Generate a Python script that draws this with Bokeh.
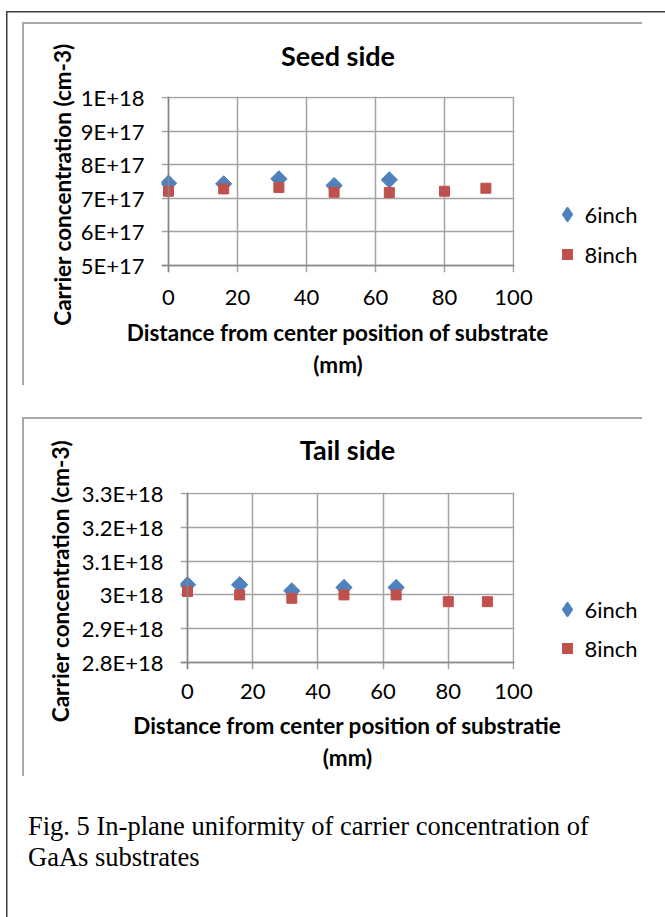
import numpy as np
from bokeh.plotting import figure
from bokeh.models import Range1d, FixedTicker, Legend, LegendItem, Span, Div
from bokeh.layouts import column
from bokeh.embed import file_html
from bokeh.resources import INLINE

# ---------------- data ----------------
distance_6inch = [0, 16, 32, 48, 64]
distance_8inch = [0, 16, 32, 48, 64, 80, 92]

seed_6inch = [7.45e17, 7.43e17, 7.58e17, 7.38e17, 7.55e17]
seed_8inch = [7.21e17, 7.28e17, 7.32e17, 7.18e17, 7.17e17, 7.21e17, 7.30e17]

tail_6inch = [3.03e18, 3.03e18, 3.012e18, 3.022e18, 3.022e18]
tail_8inch = [3.01e18, 3.00e18, 2.99e18, 3.00e18, 3.00e18, 2.98e18, 2.98e18]

x_ticks = [0, 20, 40, 60, 80, 100]
seed_ticks = [5e17, 6e17, 7e17, 8e17, 9e17, 1e18]
seed_tick_labels = ["5E+17", "6E+17", "7E+17", "8E+17", "9E+17", "1E+18"]
tail_ticks = [2.8e18, 2.9e18, 3.0e18, 3.1e18, 3.2e18, 3.3e18]
tail_tick_labels = ["2.8E+18", "2.9E+18", "3E+18", "3.1E+18", "3.2E+18", "3.3E+18"]

series_names = ["6inch", "8inch"]
y_title = "Carrier concentration (cm-3)"
caption_lines = ["Fig. 5 In-plane uniformity of carrier concentration of", "GaAs substrates"]

# ---------------- style ----------------
FONT = "Lato"
BLUE = "#4F81BD"
RED = "#C0504D"
GRID = "#a3a3a3"
AXIS = "#868686"
BOX = "#a8a8a8"
FRAME = "#3c3c3c"
W = 665


def lines_css(segs):
    """segs: list of (x, y, w, h, color) -> css background drawing thin rules"""
    return {
        "background-image": ", ".join(f"linear-gradient({c}, {c})" for *_, c in segs),
        "background-size": ", ".join(f"{w}px {h}px" for _, _, w, h, _ in segs),
        "background-position": ", ".join(f"{x}px {y}px" for x, y, *_ in segs),
        "background-repeat": "no-repeat",
    }


def span_range(d0, d1, p0, p1, f0, f1):
    k = (d1 - d0) / (p1 - p0)
    return d0 + (f0 - p0) * k, d0 + (f1 - p0) * k


def make_chart(H, fr, xpix, ypix, yticks, ylabels, title, xlabel, v6, v8,
               leg, title_standoff, tick_standoff, xlab_standoff, ylab_standoff, segs):
    x0, x1 = span_range(0, 100, xpix[0], xpix[1], fr["left"], fr["right"])
    y0, y1 = span_range(yticks[0], yticks[-1], ypix[0], ypix[1], fr["bottom"], fr["top"])
    p = figure(frame_width=fr["right"] - fr["left"], frame_height=fr["bottom"] - fr["top"],
               output_backend="svg", toolbar_location=None,
               x_range=Range1d(x0, x1), y_range=Range1d(y0, y1),
               min_border_left=fr["left"], min_border_right=W - fr["right"],
               min_border_top=fr["top"], min_border_bottom=H - fr["bottom"],
               background_fill_color="white", border_fill_color=None,
               frame_align=False, styles=lines_css(segs))
    p.outline_line_color = None
    p.title.text = title
    p.title.align = "center"
    p.title.text_font = FONT
    p.title.text_font_size = "27px"
    p.title.text_font_style = "bold"
    p.title.text_color = "black"
    p.title.standoff = title_standoff

    p.xaxis.ticker = FixedTicker(ticks=x_ticks)
    p.yaxis.ticker = FixedTicker(ticks=yticks)
    p.yaxis.major_label_overrides = {t: s for t, s in zip(yticks, ylabels)}
    for ax in (p.xaxis[0], p.yaxis[0]):
        ax.axis_line_color = None
        ax.major_tick_line_color = None
        ax.minor_tick_line_color = None
        ax.major_tick_out = 0
        ax.major_tick_in = 0
        ax.major_label_text_font = FONT
        ax.major_label_text_font_size = "22px"
        ax.major_label_text_color = "black"
        ax.axis_label_text_font = FONT
        ax.axis_label_text_font_size = "22.5px"
        ax.axis_label_text_font_style = "bold"
        ax.axis_label_text_color = "black"
    p.xaxis.major_label_standoff = tick_standoff
    p.yaxis.major_label_standoff = 17
    p.xaxis.axis_label = xlabel
    p.yaxis.axis_label = y_title
    p.xaxis.axis_label_standoff = xlab_standoff
    p.yaxis.axis_label_standoff = ylab_standoff

    for g in (p.xgrid[0], p.ygrid[0]):
        g.grid_line_color = GRID
        g.grid_line_width = 1.5

    p.add_layout(Span(location=0, dimension="height", line_color=AXIS, line_width=1.5))
    p.add_layout(Span(location=yticks[0], dimension="width", line_color=AXIS, line_width=1.5))

    # diamonds in the plot: squares turned 45 degrees
    p.scatter(distance_6inch, v6, marker="square", angle=np.pi / 4, size=11.5,
              fill_color=BLUE, line_color=BLUE)
    p.scatter(distance_8inch, v8, marker="square", size=10,
              fill_color=RED, line_color=RED)
    # legend swatches (legend glyphs are drawn unrotated and at one common size)
    key6 = p.scatter(distance_6inch, v6, marker="diamond", size=15,
                     fill_color=BLUE, line_color=BLUE, line_width=1.5, visible=False)
    key8 = p.scatter(distance_8inch, v8, marker="square", size=15,
                     fill_color=RED, line_color="white", line_width=3.5, visible=False)

    legend = Legend(items=[LegendItem(label=series_names[0], renderers=[key6]),
                           LegendItem(label=series_names[1], renderers=[key8])],
                    location=(leg[0], leg[1]), glyph_width=36, glyph_height=36,
                    label_standoff=0, spacing=leg[2], padding=0, margin=0,
                    border_line_color=None, background_fill_alpha=0,
                    inactive_fill_alpha=0,
                    label_text_font=FONT, label_text_font_size="22px",
                    label_text_color="black")
    p.add_layout(legend, "right")
    return p


# chart A: page y 0..400 ; chart B: page y 400..790 ; caption: 790..917
HA = 400
frA = dict(left=161, right=514, top=96, bottom=272)
segsA = [(6, 11, 1.5, HA - 11, FRAME), (6, 11, W - 6, 1.5, FRAME),
         (22, 22, 620, 2, BOX), (22, 22, 2, 363, BOX)]
pA = make_chart(HA, frA, (168, 513), (265, 97), seed_ticks, seed_tick_labels, "Seed side",
                "Distance from center position of substrate\n(mm)",
                seed_6inch, seed_8inch, (34.5, 0, 4), 48.5, 17, 11, 2, segsA)

HB = 390
frB = dict(left=180, right=514, top=92, bottom=269)
segsB = [(6, 0, 1.5, HB, FRAME), (22, 17, 620, 2, BOX), (22, 17, 2, 359, BOX)]
pB = make_chart(HB, frB, (187, 513), (262, 93), tail_ticks, tail_tick_labels, "Tail side",
                "Distance from center position of substratie\n(mm)",
                tail_6inch, tail_8inch, (34.5, 3, 3), 54, 14, 10, 5, segsB)

HC = 917 - HA - HB
caption = Div(text=('<div style="margin: 21px 0 0 28px; font-family: \'Liberation Serif\', serif; '
                    'font-size: 26.5px; line-height: 31px; color: black; white-space: nowrap;">'
                    + "<br>".join(caption_lines) + "</div>"),
              width=W, height=HC, margin=(0, 0, 0, 0),
              styles=lines_css([(6, 0, 1.5, HC, FRAME)]))

layout = column(pA, pB, caption)
open("out.html", "w").write(file_html(layout, INLINE))
